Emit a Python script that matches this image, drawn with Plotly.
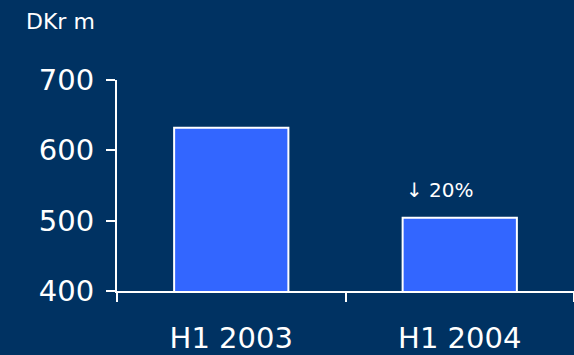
import plotly.graph_objects as go

# data
periods = ["H1 2003", "H1 2004"]
profit = [632, 504]
change_label = "\u2193 20%"
unit_label = "DKr m"

bg = "#003262"
bar_color = "#3366FF"
fnt = "DejaVu Sans"

fig = go.Figure(go.Bar(
    x=periods, y=profit, width=0.5,
    marker=dict(color=bar_color, line=dict(color="white", width=2)),
))

fig.add_annotation(x=periods[1], y=544, text=change_label, showarrow=False,
                   xshift=-20, font=dict(size=20, color="white", family=fnt))
fig.add_annotation(xref="paper", yref="paper", x=0, y=1, xshift=-93, yshift=59,
                   xanchor="left", yanchor="middle", text=unit_label, showarrow=False,
                   font=dict(size=22, color="white", family=fnt))

fig.update_layout(
    width=574, height=355,
    paper_bgcolor=bg, plot_bgcolor=bg,
    margin=dict(l=117, r=0, t=80, b=60),
    showlegend=False,
    font=dict(family=fnt, color="white"),
    xaxis=dict(showline=True, linecolor="white", linewidth=2,
               ticks="outside", tickson="boundaries", tickcolor="white",
               ticklen=9, tickwidth=2, showgrid=False,
               tickfont=dict(size=29, color="white"), ticklabelstandoff=20),
    yaxis=dict(range=[400, 700], tickvals=[400, 500, 600, 700],
               showline=True, linecolor="white", linewidth=2,
               ticks="outside", tickcolor="white", ticklen=9, tickwidth=2,
               showgrid=False, zeroline=False,
               tickfont=dict(size=29, color="white"), ticklabelstandoff=6),
)

fig.write_html("out.html", config={"displayModeBar": False},
               post_script="document.body.style.margin='0px';document.body.style.overflow='hidden';")
